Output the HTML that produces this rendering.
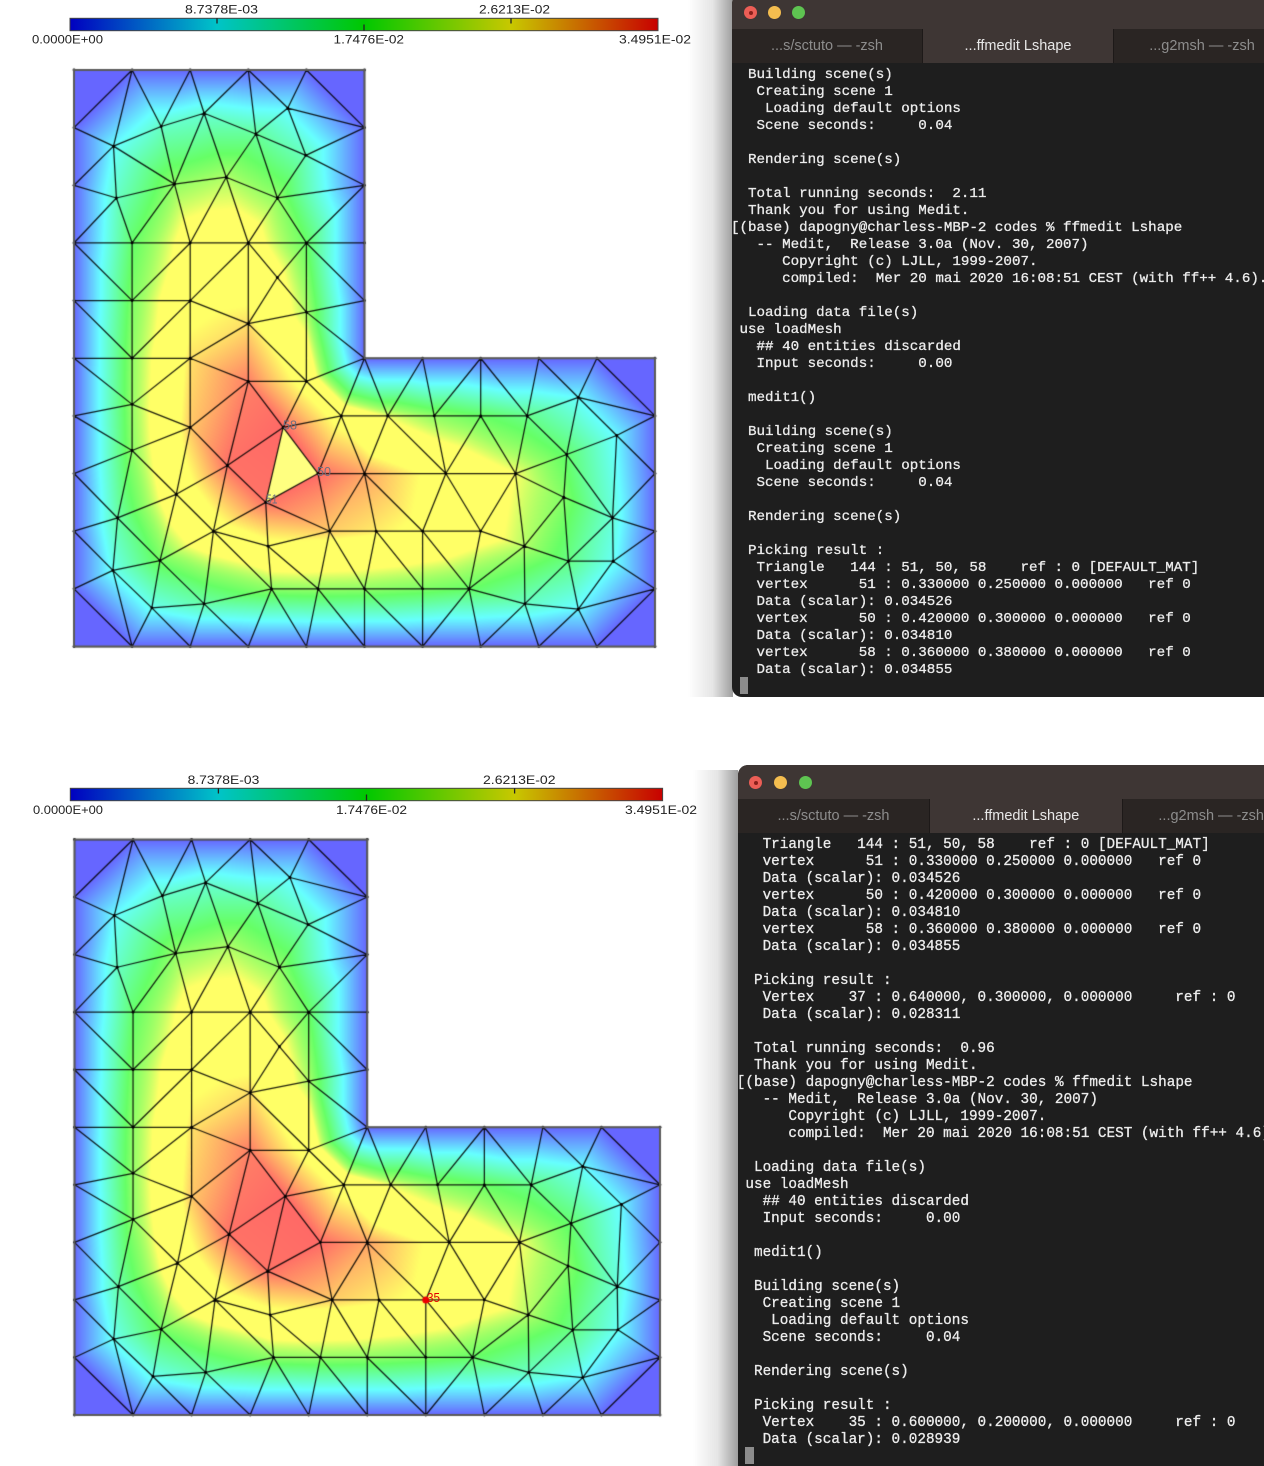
<!DOCTYPE html>
<html><head><meta charset="utf-8">
<style>
html{margin:0;padding:0;width:1264px;height:1466px;overflow:hidden;}
body{margin:0;padding:0;width:1264px;height:1466px;position:relative;overflow:hidden;background:#fff;}
.win{position:absolute;background:#1e1e1e;border-radius:10px;overflow:hidden;}
.title{position:absolute;left:0;right:0;top:0;background:#3e3634;}
.tabs{position:absolute;left:0;right:0;background:#2a2523;}
.tab{position:absolute;top:0;bottom:0;font-family:"Liberation Sans",sans-serif;font-size:14.5px;color:#8d8d8d;text-align:center;border-right:1px solid #1d1918;box-sizing:border-box;}
.tab.on{background:#3e3634;color:#e8e8e8;}
.lt{position:absolute;width:13px;height:13px;border-radius:50%;}
pre{position:absolute;margin:0;font-family:"Liberation Mono",monospace;color:#ececec;line-height:17px;white-space:pre;-webkit-text-stroke:0.3px #ececec;}
.cur{position:absolute;background:#8c8c8c;}
.sh{position:absolute;background:linear-gradient(to right,rgba(0,0,0,0),rgba(0,0,0,0.1) 55%,rgba(0,0,0,0.38));}
</style></head><body>

<canvas id="cv" width="720" height="1466" style="position:absolute;left:0;top:0"></canvas>

<svg width="720" height="1466" style="position:absolute;left:0;top:0" xmlns="http://www.w3.org/2000/svg">
<defs><linearGradient id="g" x1="0" x2="1" y1="0" y2="0">
<stop offset="0" stop-color="#0000c0"/><stop offset="0.25" stop-color="#00c4c8"/><stop offset="0.5" stop-color="#00c800"/><stop offset="0.75" stop-color="#c8c800"/><stop offset="1" stop-color="#c80000"/>
</linearGradient></defs>
<g font-family="Liberation Sans, sans-serif" font-size="11.6" fill="#222">
<rect x="70" y="18.3" width="588" height="12.4" fill="url(#g)" stroke="#444" stroke-width="1"/>
<line x1="217" y1="18.3" x2="217" y2="23.5" stroke="#222" stroke-width="1.3"/>
<line x1="364" y1="24.5" x2="364" y2="30.7" stroke="#222" stroke-width="1.3"/>
<line x1="511" y1="18.3" x2="511" y2="23.5" stroke="#222" stroke-width="1.3"/>
<text x="185" y="13.4" textLength="73" lengthAdjust="spacingAndGlyphs">8.7378E-03</text>
<text x="479" y="13.4" textLength="71" lengthAdjust="spacingAndGlyphs">2.6213E-02</text>
<text x="32" y="43.3" textLength="71" lengthAdjust="spacingAndGlyphs">0.0000E+00</text>
<text x="333.5" y="43.3" textLength="70.5" lengthAdjust="spacingAndGlyphs">1.7476E-02</text>
<text x="619" y="43.3" textLength="72" lengthAdjust="spacingAndGlyphs">3.4951E-02</text>

<rect x="70.3" y="788.3" width="592.3" height="12.4" fill="url(#g)" stroke="#444" stroke-width="1"/>
<line x1="218.4" y1="788.3" x2="218.4" y2="793.5" stroke="#222" stroke-width="1.3"/>
<line x1="366.5" y1="794.5" x2="366.5" y2="800.7" stroke="#222" stroke-width="1.3"/>
<line x1="514.6" y1="788.3" x2="514.6" y2="793.5" stroke="#222" stroke-width="1.3"/>
<text x="187.6" y="784" textLength="71.7" lengthAdjust="spacingAndGlyphs">8.7378E-03</text>
<text x="483" y="784" textLength="72.5" lengthAdjust="spacingAndGlyphs">2.6213E-02</text>
<text x="33" y="814" textLength="70" lengthAdjust="spacingAndGlyphs">0.0000E+00</text>
<text x="336" y="814" textLength="71" lengthAdjust="spacingAndGlyphs">1.7476E-02</text>
<text x="625" y="814" textLength="72" lengthAdjust="spacingAndGlyphs">3.4951E-02</text>
</g>
<g font-family="Liberation Sans, sans-serif" font-size="13" fill="#6e7080">
<text x="283" y="429.5" textLength="14" lengthAdjust="spacingAndGlyphs">58</text>
<text x="317" y="476" textLength="14" lengthAdjust="spacingAndGlyphs">50</text>
<text x="266" y="503.5" textLength="11.5" lengthAdjust="spacingAndGlyphs">51</text>
</g>
<text x="427" y="1302" font-family="Liberation Sans, sans-serif" font-size="13" fill="#e00000" textLength="13" lengthAdjust="spacingAndGlyphs">35</text>
</svg>

<div class="sh" style="left:688px;top:0;width:45px;height:697px"></div>
<div class="sh" style="left:693px;top:770px;width:45px;height:696px"></div>

<!-- top terminal -->
<div class="win" style="left:732px;top:-6px;width:560px;height:703px;">
  <div class="title" style="height:35px"></div>
  <div class="lt" style="left:12px;top:12px;background:#ec5e56"><div style="position:absolute;left:4.5px;top:4.5px;width:4px;height:4px;border-radius:50%;background:#8a1f1a"></div></div>
  <div class="lt" style="left:36px;top:12px;background:#f4bd4f"></div>
  <div class="lt" style="left:60px;top:12px;background:#5ec451"></div>
  <div class="tabs" style="top:35px;height:34px">
    <div class="tab" style="left:0;width:191px;line-height:34px">...s/sctuto — -zsh</div>
    <div class="tab on" style="left:191px;width:191px;line-height:34px">...ffmedit Lshape</div>
    <div class="tab" style="left:382px;width:191px;line-height:34px;text-indent:-14px">...g2msh — -zsh</div>
  </div>
</div>
<pre style="left:739.5px;top:66.7px;font-size:14.2px;"> Building scene(s)
  Creating scene 1
   Loading default options
  Scene seconds:     0.04

 Rendering scene(s)

 Total running seconds:  2.11
 Thank you for using Medit.
<span style="margin-left:-8.5px">[</span>(base) dapogny@charless-MBP-2 codes % ffmedit Lshape
  -- Medit,  Release 3.0a (Nov. 30, 2007)
     Copyright (c) LJLL, 1999-2007.
     compiled:  Mer 20 mai 2020 16:08:51 CEST (with ff++ 4.6).

 Loading data file(s)
use loadMesh
  ## 40 entities discarded
  Input seconds:     0.00

 medit1()

 Building scene(s)
  Creating scene 1
   Loading default options
  Scene seconds:     0.04

 Rendering scene(s)

 Picking result :
  Triangle   144 : 51, 50, 58    ref : 0 [DEFAULT_MAT]
  vertex      51 : 0.330000 0.250000 0.000000   ref 0
  Data (scalar): 0.034526
  vertex      50 : 0.420000 0.300000 0.000000   ref 0
  Data (scalar): 0.034810
  vertex      58 : 0.360000 0.380000 0.000000   ref 0
  Data (scalar): 0.034855</pre>
<div class="cur" style="left:739.5px;top:677px;width:8px;height:17px"></div>

<!-- bottom terminal -->
<div class="win" style="left:738px;top:765px;width:560px;height:701px;border-radius:10px 10px 0 0;">
  <div class="title" style="height:34.3px"></div>
  <div class="lt" style="left:11.3px;top:11.2px;background:#ec5e56"><div style="position:absolute;left:4.5px;top:4.5px;width:4px;height:4px;border-radius:50%;background:#8a1f1a"></div></div>
  <div class="lt" style="left:36.4px;top:11.2px;background:#f4bd4f"></div>
  <div class="lt" style="left:60.5px;top:11.2px;background:#5ec451"></div>
  <div class="tabs" style="top:34.3px;height:34px">
    <div class="tab" style="left:0;width:192px;line-height:34px">...s/sctuto — -zsh</div>
    <div class="tab on" style="left:192px;width:192.7px;line-height:34px">...ffmedit Lshape</div>
    <div class="tab" style="left:384.7px;width:192px;line-height:34px;text-indent:-14px">...g2msh — -zsh</div>
  </div>
</div>
<pre style="left:745.4px;top:836.7px;font-size:14.33px;">  Triangle   144 : 51, 50, 58    ref : 0 [DEFAULT_MAT]
  vertex      51 : 0.330000 0.250000 0.000000   ref 0
  Data (scalar): 0.034526
  vertex      50 : 0.420000 0.300000 0.000000   ref 0
  Data (scalar): 0.034810
  vertex      58 : 0.360000 0.380000 0.000000   ref 0
  Data (scalar): 0.034855

 Picking result :
  Vertex    37 : 0.640000, 0.300000, 0.000000     ref : 0
  Data (scalar): 0.028311

 Total running seconds:  0.96
 Thank you for using Medit.
<span style="margin-left:-8.6px">[</span>(base) dapogny@charless-MBP-2 codes % ffmedit Lshape
  -- Medit,  Release 3.0a (Nov. 30, 2007)
     Copyright (c) LJLL, 1999-2007.
     compiled:  Mer 20 mai 2020 16:08:51 CEST (with ff++ 4.6).

 Loading data file(s)
use loadMesh
  ## 40 entities discarded
  Input seconds:     0.00

 medit1()

 Building scene(s)
  Creating scene 1
   Loading default options
  Scene seconds:     0.04

 Rendering scene(s)

 Picking result :
  Vertex    35 : 0.600000, 0.200000, 0.000000     ref : 0
  Data (scalar): 0.028939</pre>
<div class="cur" style="left:745.4px;top:1447px;width:8.5px;height:17px"></div>

<script>
(function(){
var IV={A1:[.224,.925],A2:[.15,.902],A3:[.313,.889],A4:[.368,.934],A5:[.068,.868],A6:[.399,.852],A7:[.173,.802],A8:[.262,.814],A9:[.073,.778],A10:[.35,.778],A11:[.1,.7],A12:[.2,.7],A13:[.3,.7],A14:[.4,.7],A15:[.1,.6],A16:[.2,.6],A17:[.3,.56],A18:[.4,.58],A19:[.35,.64],A20:[.1,.5],A21:[.2,.5],
B1:[.3,.46],B2:[.4,.46],B3:[.1,.42],B4:[.2,.38],B5:[.1,.34],B6:[.264,.314],B7:[.36,.38],B8:[.42,.3],B9:[.33,.25],B10:[.46,.4],B11:[.176,.264],B12:[.075,.223],B13:[.24,.2],B14:[.334,.174],B15:[.44,.2],B16:[.148,.149],B17:[.067,.132],B18:[.34,.1],B19:[.42,.1],B20:[.134,.067],B21:[.224,.074],
C1:[.54,.4],C2:[.62,.4],C3:[.7,.4],C4:[.78,.4],C5:[.868,.432],C6:[.934,.366],C7:[.848,.333],C8:[.5,.3],C9:[.64,.3],C10:[.76,.3],C11:[.843,.259],C12:[.927,.223],C13:[.52,.2],C14:[.6,.2],C15:[.7,.2],C16:[.775,.174],C17:[.851,.148],C18:[.928,.148],C19:[.5,.1],C20:[.6,.1],C21:[.68,.1],C22:[.776,.074],C23:[.868,.065]};
var KNOWN={B9:0.034526,B8:0.034810,B7:0.034855,C9:0.028311,C14:0.028939};
function P(n){if(IV[n])return IV[n];var c=n[0],k=+n.slice(1)/10;return c=='b'?[k,0]:c=='e'?[1,k]:c=='s'?[k,.5]:c=='r'?[.5,k]:c=='t'?[k,1]:[0,k];}
var idx={},pts=[],names=[];
function I(n){if(!(n in idx)){idx[n]=pts.length;pts.push(P(n));names.push(n);}return idx[n];}
var ES="l9-t1 t1-A2 t1-A5 l9-A5 t2-A2 t2-A1 t3-A1 t3-A3 t3-A4 t4-A4 t4-r9 A4-A3 A4-r9 A4-A6 A2-A1 A2-A5 A2-A7 A1-A3 A1-A7 A1-A8 A3-A8 A3-A6 A3-A10 A6-r9 A6-r8 A6-A10 A5-l8 A5-A9 A5-A7 l8-A9 A9-A7 A9-l7 A9-A11 A7-A8 A7-A11 A7-A12 A8-A12 A8-A13 A8-A10 A10-A13 A10-A14 A10-r8 r8-A14 A14-r7 l7-A11 A11-A12 A12-A13 A13-A14 "+
"l7-A15 l6-A15 A11-A15 A12-A15 A12-A16 A15-A16 A13-A16 A13-A17 A16-A17 A13-A19 A14-A19 A19-A17 A19-A18 A14-A18 A14-r6 A18-r6 A18-r5 A17-A18 "+
"l6-A20 A15-A20 A16-A20 A16-A21 A20-A21 A21-A17 A17-B1 A17-B2 A18-B2 "+
"l5-A20 l5-B3 A20-B3 A21-B3 A21-B1 A21-B4 B1-B2 B2-r5 r5-B10 B2-B10 B1-B7 B2-B7 B1-B6 B4-B1 B7-B6 B7-B10 B7-B8 B7-B9 B9-B8 B6-B9 B10-B8 B10-C8 B8-C8 B8-B15 B9-B15 B9-B14 B9-B13 B6-B13 B6-B11 B4-B6 B4-B11 B4-B5 B3-B4 B3-B5 B3-l4 l4-B5 B5-l3 B5-B11 B5-B12 l3-B12 B12-B11 l2-B12 B12-B16 B12-B17 l2-B17 l1-B17 B17-B16 B11-B16 B11-B13 B13-B16 B13-B14 B13-B21 B13-B18 B14-B18 B14-B15 B14-B19 B15-B19 B15-C13 B15-C19 B15-C8 B18-B19 B19-C19 B16-B20 B16-B21 B17-B20 B17-b1 l1-b1 B20-B21 B20-b1 B20-b2 B21-b2 B21-b3 B21-B18 B18-b3 B18-b4 B19-b4 B19-b5 C19-b5 "+
"r5-C1 B10-C1 C8-C1 s6-C1 s6-C2 s7-C2 s7-C3 s7-C4 s8-C4 s8-C5 s9-C5 s9-e4 C5-e4 C5-C6 C5-C7 C4-C5 C4-C7 e4-C6 C6-C7 C6-e3 C6-C12 e3-C12 C7-C12 C7-C10 C7-C11 C4-C10 C3-C10 C3-C9 C2-C9 C1-C9 C1-C2 C2-C3 C3-C4 C8-C9 C9-C10 C8-C13 C8-C14 C9-C14 C9-C15 C10-C15 C10-C16 C10-C11 C11-C12 C11-C16 C11-C17 C12-e2 C12-C17 C12-C18 e2-C18 C18-C17 C18-e1 C18-C23 e1-C23 e1-b9 C23-b9 C23-b8 C17-C23 C17-C22 C16-C17 C22-C23 C22-b8 C22-b7 C22-C21 C16-C21 C16-C22 C15-C16 C15-C21 C14-C21 C14-C20 C14-C15 C13-C14 C13-C19 C13-C20 C19-C20 C20-C21 C19-b6 C20-b6 C21-b6 C21-b7";
var edges=[];
ES.trim().split(/\s+/).forEach(function(s){var a=s.split('-');edges.push([I(a[0]),I(a[1])]);});
var ring=[],k;
for(k=0;k<=10;k++)ring.push('b'+k);for(k=1;k<=4;k++)ring.push('e'+k);ring.push('s10');
for(k=9;k>=6;k--)ring.push('s'+k);for(k=5;k<=9;k++)ring.push('r'+k);for(k=5;k>=0;k--)ring.push('t'+k);for(k=9;k>=1;k--)ring.push('l'+k);
var ringI=ring.map(I);
for(k=0;k<ringI.length;k++)edges.push([ringI[k],ringI[(k+1)%ringI.length]]);
var n=pts.length,adj=[];for(k=0;k<n;k++)adj.push({});
edges.forEach(function(e){adj[e[0]][e[1]]=1;adj[e[1]][e[0]]=1;});
function inTri(p,A,B,C){var d=(B[1]-C[1])*(A[0]-C[0])+(C[0]-B[0])*(A[1]-C[1]);var l1=((B[1]-C[1])*(p[0]-C[0])+(C[0]-B[0])*(p[1]-C[1]))/d,l2=((C[1]-A[1])*(p[0]-C[0])+(A[0]-C[0])*(p[1]-C[1]))/d,l3=1-l1-l2;return l1>1e-6&&l2>1e-6&&l3>1e-6;}
var tris=[];
for(var a=0;a<n;a++)for(var b in adj[a]){b=+b;if(b<=a)continue;for(var c in adj[a]){c=+c;if(c<=b)continue;if(adj[b][c]){var ok=true;for(var m=0;m<n;m++){if(m==a||m==b||m==c)continue;if(inTri(pts[m],pts[a],pts[b],pts[c])){ok=false;break;}}if(ok)tris.push([a,b,c]);}}}
// FD solve -lap u = 1 on L-shape
var N=120,M=N+1,h2=1/(N*N),U=new Float64Array(M*M),half=N/2,L=[];
for(var i=1;i<N;i++)for(var j=1;j<N;j++)if(!(i>=half&&j>=half))L.push(i*M+j);
for(var it=0;it<1500;it++)for(var q=0;q<L.length;q++){var kk=L[q];var nv=(U[kk-M]+U[kk+M]+U[kk-1]+U[kk+1]+h2)*0.25;U[kk]+=1.94*(nv-U[kk]);}
function S0(x,y){var gx=x*N,gy=y*N;var i=Math.min(N-1,Math.max(0,Math.floor(gx))),j=Math.min(N-1,Math.max(0,Math.floor(gy)));var fx=gx-i,fy=gy-j;
return U[i*M+j]*(1-fx)*(1-fy)+U[(i+1)*M+j]*fx*(1-fy)+U[i*M+j+1]*(1-fx)*fy+U[(i+1)*M+j+1]*fx*fy;}
var sn=0,sd=0;for(var nm in KNOWN){var pp=IV[nm],f=S0(pp[0],pp[1]);sn+=KNOWN[nm]*f;sd+=f*f;}
var scale=sd>0?sn/sd:1;
function S(x,y){return S0(x,y)*scale;}
var val=pts.map(function(p,ii){var nm=names[ii];if(KNOWN[nm])return KNOWN[nm];return IV[nm]?S(p[0],p[1]):0;});
var vmax=0.034951;
/* hue 240->0; low range: mix with white, high range: additive white clipped */
function col(t){t=Math.max(0,Math.min(1,t));var h=(1-t)*4,r,g,b;
if(h>=3){r=0;b=1;g=4-h;}else if(h>=2){r=0;g=1;b=h-2;}else if(h>=1){g=1;b=0;r=2-h;}else{r=1;b=0;g=h;}
var s=Math.max(0,Math.min(1,(t-0.55)/0.2));s=s*s*(3-2*s);
var f1=153,f2=255;var f=f1+(f2-f1)*s;
return [Math.min(255,r*f+102),Math.min(255,g*f+102),Math.min(255,b*f+102)];}
var cv=document.getElementById('cv'),ctx=cv.getContext('2d'),W=cv.width,H=cv.height,im=ctx.createImageData(W,H),D=im.data;
function put(x,y,t){if(x<0||y<0||x>=W||y>=H)return;var c=col(t),o=(y*W+x)*4;D[o]=c[0];D[o+1]=c[1];D[o+2]=c[2];D[o+3]=255;}
function panel(x0,w,yb,hh){
 var yt=yb-hh,x,y;
 for(y=Math.floor(yt);y<Math.ceil(yb);y++)for(x=Math.floor(x0);x<Math.ceil(x0+w);x++){var u=(x+.5-x0)/w,v=(yb-y-.5)/hh;if(u<0||u>1||v<0||v>1||(u>.5&&v>.5))continue;put(x,y,S(u,v)/vmax);}
 tris.forEach(function(T){var A=pts[T[0]],B=pts[T[1]],C=pts[T[2]];
  var ax=x0+A[0]*w,ay=yb-A[1]*hh,bx=x0+B[0]*w,by=yb-B[1]*hh,cx=x0+C[0]*w,cy=yb-C[1]*hh;
  var det=(by-cy)*(ax-cx)+(cx-bx)*(ay-cy);if(Math.abs(det)<1e-9)return;
  var minx=Math.floor(Math.min(ax,bx,cx)),maxx=Math.ceil(Math.max(ax,bx,cx)),miny=Math.floor(Math.min(ay,by,cy)),maxy=Math.ceil(Math.max(ay,by,cy));
  for(var yy=miny;yy<=maxy;yy++)for(var xx=minx;xx<=maxx;xx++){var px=xx+.5,py=yy+.5;
   var l1=((by-cy)*(px-cx)+(cx-bx)*(py-cy))/det,l2=((cy-ay)*(px-cx)+(ax-cx)*(py-cy))/det,l3=1-l1-l2;
   if(l1<-.01||l2<-.01||l3<-.01)continue;
   put(xx,yy,(l1*val[T[0]]+l2*val[T[1]]+l3*val[T[2]])/vmax);}
 });
}
panel(74,581,646.5,576.5);
panel(74.5,585.5,1415,575.5);
ctx.putImageData(im,0,0);
function draw(x0,w,yb,hh,pick){
 var X=function(p){return x0+p[0]*w},Y=function(p){return yb-p[1]*hh};
 if(pick){ctx.fillStyle='#ffff80';ctx.beginPath();pick.forEach(function(nm,ii){var p=P(nm);if(ii)ctx.lineTo(X(p),Y(p));else ctx.moveTo(X(p),Y(p));});ctx.closePath();ctx.fill();}
 ctx.strokeStyle='rgba(0,0,0,0.88)';ctx.lineWidth=1.25;ctx.beginPath();
 edges.forEach(function(e){var p=pts[e[0]],q=pts[e[1]];ctx.moveTo(X(p),Y(p));ctx.lineTo(X(q),Y(q));});ctx.stroke();
 ctx.fillStyle='#000';pts.forEach(function(p){ctx.beginPath();ctx.arc(X(p),Y(p),1.4,0,7);ctx.fill();});
 ctx.strokeStyle='#5a5a5a';ctx.lineWidth=2;ctx.beginPath();
 ringI.forEach(function(ii,jj){var p=pts[ii];if(jj)ctx.lineTo(X(p),Y(p));else ctx.moveTo(X(p),Y(p));});ctx.closePath();ctx.stroke();
}
draw(74,581,646.5,576.5,['B9','B8','B7']);
draw(74.5,585.5,1415,575.5,null);
ctx.fillStyle='#ee0000';ctx.beginPath();ctx.arc(74.5+0.6*585.5,1415-0.2*575.5,3.5,0,7);ctx.fill();
})();
</script>
</body></html>
